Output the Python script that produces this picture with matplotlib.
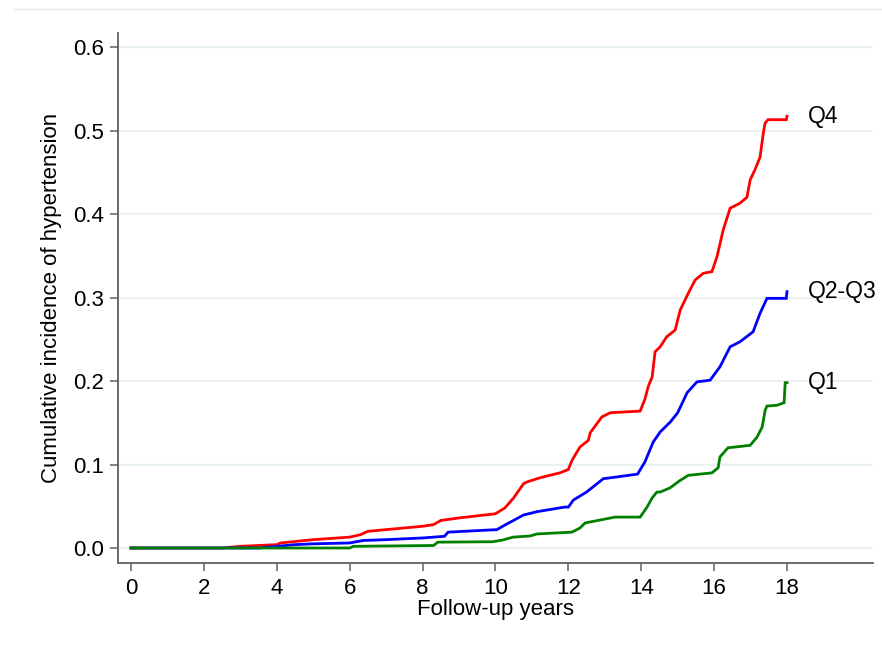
import matplotlib
matplotlib.use('Agg')
import matplotlib.pyplot as plt
from matplotlib.lines import Line2D

plt.rcParams['font.family'] = ['Liberation Sans', 'DejaVu Sans']

# Q4 curve (years, cumulative incidence)
q4_t = [0, 2.5, 3.0, 4.0, 4.1, 5.0, 6.0, 6.3, 6.5, 7.0, 8.0, 8.3, 8.5, 9.0, 10.0,
        10.26, 10.5, 10.77, 10.86, 11.14, 11.3, 11.77, 12.0, 12.1, 12.32, 12.55,
        12.6, 12.92, 13.15, 13.97, 14.1, 14.19, 14.3, 14.38, 14.52, 14.7, 14.93,
        15.07, 15.29, 15.48, 15.7, 15.94, 16.08, 16.25, 16.44, 16.71, 16.9, 16.99,
        17.12, 17.26, 17.35, 17.4, 17.48, 17.98, 18.0]
q4_y = [0, 0, 0.002, 0.004, 0.006, 0.010, 0.013, 0.016, 0.020, 0.022, 0.026, 0.028,
        0.033, 0.036, 0.041, 0.048, 0.060, 0.077, 0.079, 0.083, 0.085, 0.090, 0.094,
        0.105, 0.121, 0.129, 0.138, 0.157, 0.162, 0.164, 0.178, 0.193, 0.205, 0.235,
        0.241, 0.253, 0.261, 0.285, 0.305, 0.321, 0.329, 0.331, 0.349, 0.381, 0.407,
        0.413, 0.420, 0.441, 0.453, 0.468, 0.497, 0.509, 0.513, 0.513, 0.517]

# Q2-Q3 curve
q23_t = [0, 3.5, 4.0, 4.5, 5.0, 6.0, 6.37, 7.0, 8.0, 8.6, 8.7, 10.04, 10.26, 10.77,
         11.14, 11.9, 12.0, 12.14, 12.5, 12.96, 13.23, 13.9, 14.1, 14.33, 14.52,
         14.8, 15.0, 15.26, 15.53, 15.89, 16.16, 16.44, 16.71, 17.07, 17.26, 17.45,
         17.98, 18.0]
q23_y = [0, 0, 0.002, 0.004, 0.005, 0.006, 0.009, 0.010, 0.012, 0.014, 0.019, 0.022,
         0.0275, 0.0395, 0.0435, 0.049, 0.049, 0.0575, 0.067, 0.083, 0.0845, 0.0885,
         0.103, 0.127, 0.139, 0.151, 0.162, 0.186, 0.199, 0.201, 0.217, 0.241, 0.247,
         0.259, 0.281, 0.299, 0.299, 0.307]

# Q1 curve
q1_t = [0, 6.0, 6.1, 8.3, 8.42, 9.93, 10.2, 10.48, 10.95, 11.14, 12.1, 12.32, 12.46,
        12.87, 13.28, 13.97, 14.16, 14.3, 14.43, 14.52, 14.79, 15.07, 15.29, 15.94,
        16.11, 16.16, 16.38, 16.99, 17.18, 17.32, 17.4, 17.45, 17.73, 17.92, 17.95, 18.0]
q1_y = [0, 0, 0.002, 0.003, 0.007, 0.0075, 0.0096, 0.013, 0.0144, 0.0168, 0.019,
        0.024, 0.030, 0.0335, 0.037, 0.037, 0.049, 0.060, 0.067, 0.067, 0.072, 0.081,
        0.087, 0.090, 0.096, 0.109, 0.120, 0.123, 0.133, 0.145, 0.165, 0.170, 0.171,
        0.174, 0.198, 0.198]

labels = ['Q4', 'Q2-Q3', 'Q1']
colors = ['#ff0000', '#0000ff', '#008000']

fig = plt.figure(figsize=(8.82, 6.45), dpi=100)
ax = fig.add_axes([0.1338, 0.1271, 0.856, 0.8217])

# faint border line at top of figure
fig.add_artist(Line2D([14 / 882, 1], [1 - 9 / 645, 1 - 9 / 645], color='#e6e8ea', lw=1))

for t, y, lab, c in zip([q4_t, q23_t, q1_t], [q4_y, q23_y, q1_y], labels, colors):
    ax.plot(t, y, color=c, lw=2.0, solid_joinstyle='miter')
    ax.text(18.58, y[-1], lab, fontsize=16.5, va='center', ha='left')

ax.set_xlim(-0.357, 20.36)
ax.set_ylim(-0.018, 0.6168)
ax.set_xticks(range(0, 19, 2))
ax.set_yticks([0, 0.1, 0.2, 0.3, 0.4, 0.5, 0.6])
ax.set_yticklabels(['0.0', '0.1', '0.2', '0.3', '0.4', '0.5', '0.6'])

ax.grid(axis='y', color='#eaf1f3', lw=1.6)
ax.set_axisbelow(True)
ax.spines['top'].set_visible(False)
ax.spines['right'].set_visible(False)
for s in ['left', 'bottom']:
    ax.spines[s].set_color('#606060')
    ax.spines[s].set_linewidth(1.3)
ax.tick_params(length=6, width=1.1, color='#606060', labelsize=16, pad=4)
ax.tick_params(axis='x', pad=5)

ax.set_xlabel('Follow-up years', fontsize=16, labelpad=0)
ax.set_ylabel('Cumulative incidence of hypertension', fontsize=16, labelpad=8)

plt.savefig('out.png', dpi=100)
